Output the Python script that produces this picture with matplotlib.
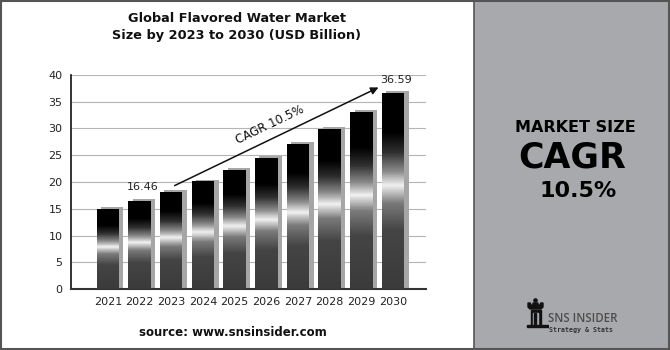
import numpy as np
import matplotlib
matplotlib.use("Agg")
import matplotlib.pyplot as plt
from matplotlib.colors import LinearSegmentedColormap
from matplotlib.patches import Rectangle, Circle, Polygon

# ---- data ----
years = ["2021", "2022", "2023", "2024", "2025", "2026", "2027", "2028", "2029", "2030"]
values = [14.90, 16.46, 18.19, 20.10, 22.21, 24.54, 27.12, 29.97, 33.12, 36.59]
yticks = [0, 5, 10, 15, 20, 25, 30, 35, 40]
title = "Global Flavored Water Market\nSize by 2023 to 2030 (USD Billion)"
first_label = "16.46"
last_label = "36.59"
cagr_text = "CAGR 10.5%"
source_text = "source: www.snsinsider.com"

W, H = 670, 350
fig = plt.figure(figsize=(W / 100, H / 100), dpi=100)
fig.patch.set_facecolor("white")

def fx(px):
    return px / W

def fy(py):
    return 1 - py / H

# right grey panel
fig.patches.append(Rectangle((fx(474), 0), 1 - fx(474), 1, transform=fig.transFigure,
                             facecolor="#a8a9ac", edgecolor="#555555", lw=1.2, zorder=-1))
# outer border
fig.patches.append(Rectangle((0.001, 0.002), 0.998, 0.996, transform=fig.transFigure,
                             facecolor="none", edgecolor="#555555", lw=1.5, zorder=5))

ax = fig.add_axes([fx(71), fy(289), fx(426) - fx(71), fy(75) - fy(289)])
ax.set_facecolor("white")
x = np.arange(len(years))
bw = 0.71

# shadows
ax.bar(x + 0.14, np.array(values) + 0.35, width=bw, color="#a6a6a8", zorder=2, linewidth=0)

bars = ax.bar(x, values, width=bw, color="#3a3a3a", zorder=3, linewidth=0)

stops = [(0.0, "#3a3a3a"), (0.30, "#444444"), (0.44, "#7a7a7a"), (0.53, "#f0f0f0"),
         (0.60, "#8c8c8c"), (0.70, "#2e2e2e"), (0.80, "#000000"), (1.0, "#000000")]
cmap = LinearSegmentedColormap.from_list("bargrad", stops, N=1024)
nseg = 300
frac = (np.arange(nseg) + 0.5) / nseg
for b in bars:
    x0, w, h = b.get_x(), b.get_width(), b.get_height()
    yedges = np.linspace(0, h, nseg + 1)
    ax.pcolormesh([x0, x0 + w], yedges, frac.reshape(-1, 1), cmap=cmap, vmin=0, vmax=1,
                  shading="flat", zorder=3.5, edgecolors="none", antialiased=False,
                  rasterized=False)

ax.set_xlim(-1.16, 10.04)
ax.set_ylim(0, 40)
ax.set_yticks(yticks)
ax.set_xticks(x)
ax.set_xticklabels(years)
ax.tick_params(axis="both", length=0, labelsize=8, colors="#222222")
ax.tick_params(axis="y", pad=6)
ax.tick_params(axis="x", pad=6)
ax.grid(axis="y", color="#b5b5b5", lw=0.8)
ax.set_axisbelow(True)
for s in ["top", "right"]:
    ax.spines[s].set_visible(False)
ax.spines["left"].set_color("#111111")
ax.spines["left"].set_linewidth(1.2)
ax.spines["bottom"].set_color("#333333")
ax.spines["bottom"].set_linewidth(1.5)

# annotations
ax.text(1.1, values[1] + 2.6, first_label, ha="center", va="center", fontsize=8, color="#222222")
ax.text(9.1, values[9] + 2.5, last_label, ha="center", va="center", fontsize=8, color="#222222")
ax.annotate("", xy=(8.62, 37.9), xytext=(2.03, 19.1),
            arrowprops=dict(arrowstyle="-|>", color="#111111", lw=1.1, mutation_scale=11))
ax.text(5.1, 30.7, cagr_text, rotation=25.7, ha="center", va="center", fontsize=8.5,
        color="#111111", rotation_mode="anchor")

# title and source
fig.text(fx(237), fy(27), title, ha="center", va="center", fontsize=9.3, fontweight="bold",
         color="#111111", linespacing=1.35)
fig.text(fx(233), fy(332), source_text, ha="center", va="center", fontsize=8.5,
         fontweight="bold", color="#111111")

# right panel texts
fig.text(fx(575), fy(128), "MARKET SIZE", ha="center", va="center", fontsize=11.5,
         fontweight="bold", color="#000000")
fig.text(fx(572), fy(157), "CAGR", ha="center", va="center", fontsize=25,
         fontweight="heavy", color="#000000")
fig.text(fx(578), fy(191), "10.5%", ha="center", va="center", fontsize=16,
         fontweight="bold", color="#000000")

# logo
fig.text(fx(548), fy(318), "SNS INSIDER", ha="left", va="center", fontsize=8.3,
         color="#4d4d4d", family="Open Sans", fontweight="semibold")
fig.text(fx(549), fy(330), "Strategy & Stats", ha="left", va="center", fontsize=4.8,
         color="#333333", fontweight="bold", family="DejaVu Sans Mono")
lax = fig.add_axes([fx(524), fy(332), fx(549) - fx(524), fy(298) - fy(332)])
lax.set_zorder(3)
lax.set_xlim(524, 549)
lax.set_ylim(332, 298)
lax.axis("off")
lax.add_patch(Circle((535.5, 300.5), 1.6, color="#111111"))
lax.add_patch(Polygon([(528, 303), (530.5, 303), (530.5, 305), (533, 305), (533, 303),
                       (538, 303), (538, 305), (540.5, 305), (540.5, 303), (543, 303),
                       (543, 307), (541, 309), (530, 309), (528, 307)], closed=True,
                      color="#111111"))
lax.add_patch(Rectangle((530.5, 309.5), 10, 15.5, color="#111111"))
lax.add_patch(Rectangle((533, 313), 5, 11, color="#a8a9ac"))
lax.add_patch(Rectangle((534.3, 313), 1.2, 11, color="#111111"))
lax.add_patch(Rectangle((527, 325), 22, 1.8, color="#111111"))

fig.savefig("out.png", dpi=100)
